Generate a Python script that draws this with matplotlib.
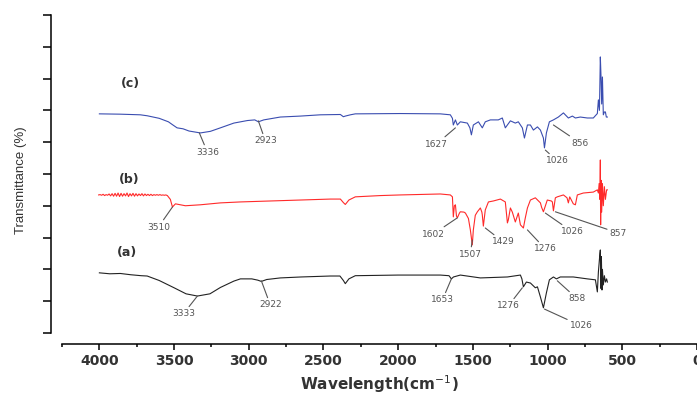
import numpy as np
import matplotlib
matplotlib.use('Agg')
import matplotlib.pyplot as plt
from matplotlib.ticker import MultipleLocator, NullFormatter

plt.rcParams['font.family'] = ['DejaVu Sans']

# ---------------- data ----------------
# (a) black spectrum
wn_a = [4000, 3930, 3860, 3790, 3720, 3680, 3600, 3500, 3420, 3344, 3260, 3190, 3100,
        3056, 2980, 2940, 2916, 2880, 2789, 2650, 2454, 2390, 2367, 2354, 2330, 2287,
        2000, 1718, 1660, 1644, 1630, 1584, 1450, 1269, 1182, 1172, 1162, 1142, 1115,
        1082, 1068, 1048, 1028, 1008, 988, 961, 941, 915, 828, 734, 680, 667, 660,
        655, 650, 647, 643, 640, 636, 633, 627, 620, 613, 605, 600]
t_a = [18.9, 18.6, 18.7, 18.3, 18.0, 17.9, 16.5, 14.2, 12.3, 11.6, 12.3, 14.3, 16.3,
       17.0, 17.0, 16.6, 16.2, 16.8, 17.3, 17.6, 17.9, 17.9, 16.5, 15.5, 17.0, 18.0,
       18.2, 18.2, 18.0, 17.0, 17.6, 18.2, 17.3, 17.6, 18.2, 17.0, 14.5, 16.0, 15.7,
       14.2, 14.5, 11.3, 7.9, 12.6, 16.7, 17.6, 17.0, 17.6, 17.6, 17.0, 16.7, 12.9, 19.2,
       22.0, 25.0, 26.1, 14.0, 24.0, 13.5, 20.0, 15.1, 18.0, 16.0, 17.0, 16.0]

# (b) red spectrum
wn_b = [4005, 3995, 3985, 3975, 3965, 3955, 3945, 3935, 3925, 3915, 3905, 3895, 3885,
        3875, 3865, 3855, 3845, 3835, 3825, 3815, 3805, 3795, 3785, 3775, 3765, 3755,
        3745, 3735, 3725, 3715, 3705, 3695, 3685, 3675, 3665, 3655, 3645, 3635, 3625,
        3615, 3605, 3595, 3585, 3575, 3565, 3555,
        3545, 3525, 3511, 3491, 3424, 3324, 3190, 3056, 2856, 2655, 2454, 2387, 2367,
        2354, 2330, 2287, 2119, 1985, 1718, 1651, 1637, 1631, 1624, 1617, 1610, 1604,
        1590, 1584, 1560, 1550, 1530, 1517, 1504, 1497, 1484, 1470, 1450, 1440, 1437,
        1430, 1417, 1396, 1363, 1316, 1283, 1269, 1263, 1249, 1236, 1216, 1196, 1182,
        1162, 1150, 1135, 1115, 1082, 1048, 1040, 1028, 1015, 1002, 975, 968, 961, 948,
        935, 894, 870, 861, 852, 834, 828, 814, 801, 761, 694, 667, 660, 655, 650, 647,
        645, 642, 638, 633, 627, 620, 613, 605, 600]
t_b = [43.4, 43.5, 43.3, 43.6, 43.2, 43.5, 43.3, 43.7, 43.1, 43.8, 43.0, 43.9, 43.0,
       44.0, 42.9, 43.9, 43.0, 43.8, 43.1, 44.0, 42.9, 43.8, 43.1, 43.9, 43.0, 43.8,
       43.1, 43.7, 43.2, 43.8, 43.1, 43.7, 43.2, 43.6, 43.2, 43.6, 43.2, 43.5, 43.3,
       43.5, 43.3, 43.5, 43.3, 43.4, 43.3, 43.4,
       43.2, 42.0, 39.6, 40.6, 40.0, 40.3, 40.9, 41.2, 41.5, 41.8, 42.1, 42.1, 41.0,
       40.4, 41.8, 42.8, 43.2, 43.4, 43.7, 43.4, 42.8, 36.5, 40.0, 40.3, 36.8, 36.2,
       37.7, 38.1, 38.0, 37.7, 36.0, 32.4, 27.7, 32.4, 37.0, 38.1, 39.3, 38.0, 37.1,
       33.6, 38.7, 41.2, 41.5, 42.1, 41.2, 34.6, 35.5, 39.3, 38.0, 34.9, 37.7, 34.0,
       33.0, 36.0, 39.3, 41.8, 42.5, 40.9, 39.5, 38.1, 40.0, 41.8, 41.5, 41.2, 38.4, 42.5,
       42.8, 43.4, 42.5, 40.9, 42.8, 41.2, 40.6, 40.3, 43.4, 44.0, 44.3, 45.0, 44.0, 47.0,
       42.0, 54.4, 34.0, 48.0, 38.0, 47.0, 40.0, 46.0, 42.0, 45.0, 45.0]

# (c) blue spectrum
wn_c = [4000, 3860, 3726, 3680, 3600, 3538, 3511, 3480, 3440, 3400, 3324, 3257, 3190,
        3100, 3009, 2960, 2936, 2900, 2789, 2655, 2521, 2387, 2367, 2354, 2320, 2287,
        1985, 1718, 1651, 1637, 1631, 1617, 1604, 1584, 1537, 1520, 1510, 1497, 1463,
        1437, 1417, 1383, 1330, 1303, 1283, 1249, 1216, 1196, 1169, 1155, 1135, 1115,
        1095, 1068, 1048, 1028, 1021, 1008, 988, 961, 928, 894, 861, 834, 814, 781, 734,
        694, 667, 660, 653, 647, 642, 638, 633, 627, 620, 613, 607, 600]
t_c = [68.9, 68.8, 68.6, 68.3, 67.5, 66.4, 65.5, 64.5, 64.2, 63.5, 62.9, 63.4, 64.5,
       66.0, 66.8, 67.0, 66.4, 67.0, 67.9, 68.2, 68.6, 68.7, 68.0, 68.2, 68.6, 68.9,
       69.0, 68.9, 68.6, 67.5, 65.4, 67.0, 65.4, 66.4, 66.0, 64.5, 62.3, 65.4, 66.4,
       64.5, 66.4, 67.0, 67.0, 67.6, 64.5, 66.7, 66.0, 66.4, 64.5, 61.3, 65.4, 65.4,
       63.8, 64.8, 63.8, 61.3, 58.2, 62.9, 66.4, 67.0, 67.9, 69.2, 67.6, 68.2, 67.6, 67.9,
       67.6, 67.6, 69.0, 73.3, 70.0, 86.8, 80.0, 72.0, 80.5, 68.6, 69.5, 69.5, 67.9, 67.9]

# peak labels: text, tip on curve, text position
peaks = [
    ('3336', (3331, 62.9), (3277, 56.9)),
    ('2923', (2936, 66.7), (2889, 60.4)),
    ('1627', (1617, 64.5), (1744, 59.4)),
    ('1026', (1015, 57.5), (935, 54.1)),
    ('856', (961, 65.4), (781, 59.7)),
    ('3510', (3511, 39.6), (3605, 33.3)),
    ('1602', (1604, 36.2), (1765, 31.1)),
    ('1507', (1504, 29.2), (1517, 24.8)),
    ('1429', (1417, 33.0), (1296, 28.6)),
    ('1276', (1135, 32.4), (1015, 26.4)),
    ('1026', (1015, 37.7), (834, 31.8)),
    ('857', (948, 38.1), (526, 31.4)),
    ('3333', (3344, 11.6), (3438, 6.0)),
    ('2922', (2916, 16.4), (2856, 8.8)),
    ('1653', (1644, 17.0), (1704, 10.4)),
    ('1276', (1169, 14.2), (1263, 8.5)),
    ('858', (935, 16.4), (801, 10.7)),
    ('1026', (1021, 7.5), (774, 2.2)),
]

# ---------------- plot ----------------
fig = plt.figure(figsize=(6.97, 3.94), dpi=100)
ax = fig.add_axes([0.089, 0.155, 0.911, 0.807])

ax.plot(wn_a, t_a, color='#222222', lw=0.8)
ax.plot(wn_b, t_b, color='#ff2a2a', lw=0.8)
ax.plot(wn_c, t_c, color='#3a4db0', lw=0.8)

for txt, tip, pos in peaks:
    ax.annotate(txt, xy=tip, xytext=pos, ha='center', va='center',
                fontsize=6.5, color='#555555',
                arrowprops=dict(arrowstyle='-', color='#555555', lw=0.8,
                                shrinkA=0, shrinkB=0))

ax.text(3793, 78.6, '(c)', fontsize=9, fontweight='bold', color='#333333', ha='center', va='center')
ax.text(3799, 48.4, '(b)', fontsize=9, fontweight='bold', color='#333333', ha='center', va='center')
ax.text(3813, 25.2, '(a)', fontsize=9, fontweight='bold', color='#333333', ha='center', va='center')

ax.set_xlim(4250, 0)
ax.set_ylim(0, 100)

# origin style axes: detached left and bottom spines
for s in ['top', 'right']:
    ax.spines[s].set_visible(False)
ax.spines['left'].set_position(('outward', 8))
ax.spines['bottom'].set_position(('outward', 8))
ax.spines['left'].set_linewidth(1.1)
ax.spines['bottom'].set_linewidth(1.1)

ax.xaxis.set_major_locator(MultipleLocator(500))
ax.xaxis.set_minor_locator(MultipleLocator(250))
ax.yaxis.set_major_locator(MultipleLocator(10))
ax.yaxis.set_major_formatter(NullFormatter())
ax.tick_params(axis='x', which='major', direction='out', length=4, width=1.1,
               labelsize=10, pad=3)
ax.tick_params(axis='x', which='minor', direction='out', length=2.5, width=1.1)
ax.tick_params(axis='y', which='major', direction='out', length=6, width=1.1)
for lab in ax.get_xticklabels():
    lab.set_fontweight('bold')
    lab.set_color('#333333')

ax.set_xlabel('Wavelength(cm$^{-1}$)', fontsize=11, fontweight='bold', color='#333333')
ax.xaxis.set_label_coords(0.5, -0.128)
ax.set_ylabel('Transmittance (%)', fontsize=9.5, family='Liberation Sans', color='#333333')
ax.yaxis.set_label_coords(-0.055, 0.48)

fig.savefig('out.png', dpi=100)
